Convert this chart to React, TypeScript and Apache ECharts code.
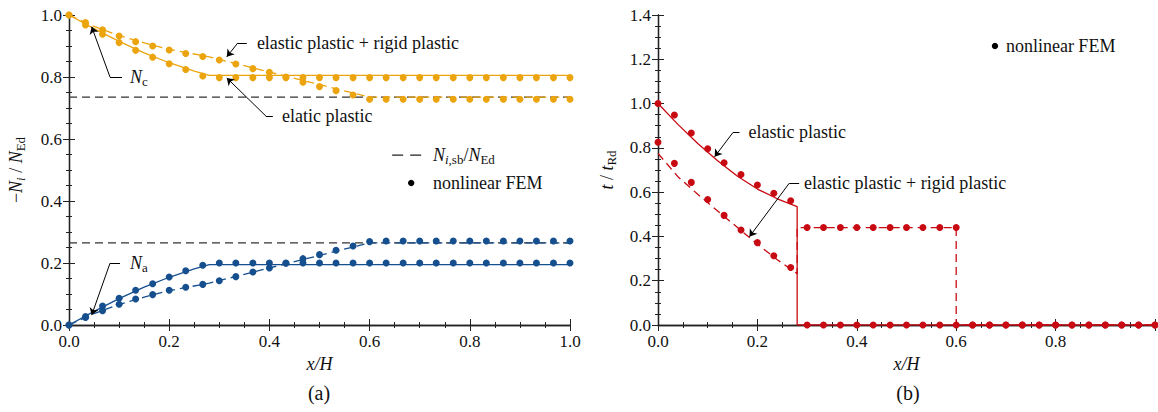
import React, { useEffect, useRef } from 'react';
import * as echarts from 'echarts';

// ---------- data ----------
const femX = [0, 0.033, 0.067, 0.1, 0.133, 0.167, 0.2, 0.233, 0.267, 0.3, 0.333, 0.367, 0.4, 0.433, 0.467, 0.5, 0.533, 0.567, 0.6, 0.633, 0.667, 0.7, 0.733, 0.767, 0.8, 0.833, 0.867, 0.9, 0.933, 0.967, 1.0];

// (a) nonlinear FEM
const femNcEP = [1.0, 0.968, 0.938, 0.911, 0.886, 0.864, 0.843, 0.824, 0.803, 0.798, 0.798, 0.798, 0.798, 0.798, 0.798, 0.798, 0.798, 0.798, 0.798, 0.798, 0.798, 0.798, 0.798, 0.798, 0.798, 0.798, 0.798, 0.798, 0.798, 0.798, 0.798];
const femNaEP = [0, 0.027, 0.061, 0.086, 0.112, 0.133, 0.155, 0.175, 0.193, 0.2, 0.2, 0.2, 0.2, 0.2, 0.2, 0.2, 0.2, 0.2, 0.2, 0.2, 0.2, 0.2, 0.2, 0.2, 0.2, 0.2, 0.2, 0.2, 0.2, 0.2, 0.2];
const femNcRP = [1.0, 0.976, 0.952, 0.932, 0.914, 0.9, 0.887, 0.876, 0.866, 0.855, 0.842, 0.827, 0.815, 0.8, 0.783, 0.769, 0.756, 0.742, 0.728, 0.728, 0.728, 0.728, 0.728, 0.728, 0.728, 0.728, 0.728, 0.728, 0.728, 0.728, 0.728];
const femNaRP = [0, 0.024, 0.046, 0.067, 0.084, 0.098, 0.112, 0.122, 0.131, 0.143, 0.156, 0.171, 0.184, 0.199, 0.214, 0.227, 0.241, 0.255, 0.269, 0.271, 0.271, 0.271, 0.271, 0.271, 0.271, 0.271, 0.271, 0.271, 0.271, 0.271, 0.271];

// (a) analytical lines
const lineXEP = [0, 0.05, 0.1, 0.15, 0.2, 0.25, 0.28, 1.0];
const lineNaEP = [0, 0.044, 0.085, 0.122, 0.154, 0.181, 0.195, 0.195];
const lineNcEP = [1, 0.956, 0.915, 0.878, 0.846, 0.819, 0.805, 0.805];
const lineXRP = [0, 0.05, 0.1, 0.15, 0.2, 0.28, 0.4, 0.6, 1.0];
const lineNaRP = [0, 0.037, 0.066, 0.09, 0.111, 0.135, 0.184, 0.265, 0.265];
const lineNcRP = [1, 0.963, 0.934, 0.91, 0.889, 0.865, 0.816, 0.735, 0.735];
const sbX = [0, 1];
const sbNc = [0.735, 0.735];
const sbNa = [0.265, 0.265];

// (b) nonlinear FEM
const femTEP = [1.0, 0.948, 0.867, 0.796, 0.733, 0.68, 0.632, 0.595, 0.561, 0, 0, 0, 0, 0, 0, 0, 0, 0, 0, 0, 0, 0, 0, 0, 0, 0, 0, 0, 0, 0, 0];
const femTRP = [0.825, 0.73, 0.644, 0.567, 0.495, 0.429, 0.372, 0.313, 0.26, 0.44, 0.44, 0.44, 0.44, 0.44, 0.44, 0.44, 0.44, 0.44, 0.44, 0, 0, 0, 0, 0, 0, 0, 0, 0, 0, 0, 0];

// (b) analytical lines
const lineTXEP = [0, 0.04, 0.08, 0.12, 0.16, 0.2, 0.24, 0.28, 0.28, 1.0];
const lineTEP = [1, 0.906, 0.82, 0.742, 0.672, 0.614, 0.57, 0.535, 0, 0];
const lineTXRP = [0, 0.04, 0.08, 0.12, 0.16, 0.2, 0.24, 0.28, 0.28, 0.6, 0.6, 1.0];
const lineTRP = [0.775, 0.67, 0.59, 0.515, 0.44, 0.365, 0.295, 0.232, 0.44, 0.44, 0, 0];

// annotation arrows (data coords): [elbow start, elbow, tip]
const arrowsA = [
  [[0.355, 0.91], [0.337, 0.91], [0.315, 0.865]],
  [[0.407, 0.674], [0.393, 0.674], [0.315, 0.797]],
  [[0.1058, 0.8], [0.0818, 0.8], [0.0453, 0.962]],
  [[0.1018, 0.199], [0.0818, 0.199], [0.0453, 0.032]],
];
const arrowsB = [
  [[0.164, 0.869], [0.1507, 0.869], [0.114, 0.76]],
  [[0.284, 0.64], [0.264, 0.64], [0.184, 0.399]],
];

const FONT = "'Liberation Serif', 'Times New Roman', serif";
const ORANGE = '#EBA40E';
const BLUE = '#164F8E';
const RED = '#C80A12';
const AXC = '#222';
const TXT = '#111';

const zip = (xs: number[], ys: number[]) => xs.map((x, i) => [x, ys[i]]);

function rich(size: number) {
  const sub = Math.round(size * 0.72);
  return {
    r: { fontFamily: FONT, fontSize: size, fontStyle: 'normal', lineHeight: size + 4, color: TXT },
    i: { fontFamily: FONT, fontSize: size, fontStyle: 'italic', lineHeight: size + 4, color: TXT },
    s: { fontFamily: FONT, fontSize: sub, fontStyle: 'normal', lineHeight: 10, verticalAlign: 'bottom', color: TXT },
    is: { fontFamily: FONT, fontSize: sub, fontStyle: 'italic', lineHeight: 10, verticalAlign: 'bottom', color: TXT },
  };
}

function xAxes(grid: number, hideMax: boolean) {
  const common: any = {
    type: 'value', gridIndex: grid, min: 0, max: 1, interval: 0.2,
    axisLine: { show: true, lineStyle: { color: AXC, width: 1.3 } },
    axisTick: { show: true, inside: true, length: 6, lineStyle: { color: AXC } },
    minorTick: { show: true, splitNumber: 4, length: 3, lineStyle: { color: AXC } },
    splitLine: { show: false },
    minorSplitLine: { show: false },
  };
  return [
    {
      ...common, position: 'bottom',
      name: 'x/H', nameLocation: 'middle', nameGap: 30,
      nameTextStyle: { fontFamily: FONT, fontSize: 18, fontStyle: 'italic', color: TXT },
      axisLabel: {
        show: true, fontFamily: FONT, fontSize: 17, fontStyle: 'normal', color: TXT, margin: 8,
        formatter: (v: number) => (hideMax && v > 0.99 ? '' : v.toFixed(1)),
      },
    },
    { ...common, position: 'top', axisLabel: { show: false } },
  ];
}

function yAxes(grid: number, max: number, name: string, gap: number) {
  const common: any = {
    type: 'value', gridIndex: grid, min: 0, max, interval: 0.2,
    axisLine: { show: true, lineStyle: { color: AXC, width: 1.3 } },
    axisTick: { show: true, inside: true, length: 6, lineStyle: { color: AXC } },
    minorTick: { show: true, splitNumber: 4, length: 3, lineStyle: { color: AXC } },
    splitLine: { show: false },
    minorSplitLine: { show: false },
  };
  return [
    {
      ...common, position: 'left',
      name, nameLocation: 'middle', nameGap: gap,
      nameTextStyle: { fontFamily: FONT, fontSize: 18, color: TXT, rich: rich(18) },
      axisLabel: { show: true, fontFamily: FONT, fontSize: 17, fontStyle: 'normal', color: TXT, margin: 7, formatter: (v: number) => v.toFixed(1) },
    },
    { ...common, position: 'right', axisLabel: { show: false } },
  ];
}

function lineSeries(xi: number, yi: number, data: number[][], color: string, dashed: boolean, width = 1.3) {
  return {
    type: 'line', xAxisIndex: xi, yAxisIndex: yi, data, symbol: 'none', z: 3,
    lineStyle: { color, width, type: dashed ? [8, 5] : 'solid' },
    silent: true,
  };
}
function femSeries(xi: number, yi: number, ys: number[], color: string) {
  return {
    type: 'scatter', xAxisIndex: xi, yAxisIndex: yi, data: zip(femX, ys),
    symbol: 'circle', symbolSize: 7, itemStyle: { color, opacity: 1 }, z: 5,
  };
}
function arrowSeries(xi: number, yi: number, arrows: number[][][]) {
  const data: any[] = [];
  arrows.forEach((a) => {
    data.push({ coords: [a[0], a[1]], symbol: ['none', 'none'] });
    data.push({ coords: [a[1], a[2]] });
  });
  return {
    type: 'lines', coordinateSystem: 'cartesian2d', xAxisIndex: xi, yAxisIndex: yi,
    z: 6, silent: true,
    symbol: ['none', 'arrow'], symbolSize: 7,
    lineStyle: { color: '#000', width: 1, opacity: 1, curveness: 0 },
    data,
  };
}

export default function App() {
  const ref = useRef<HTMLDivElement>(null);
  useEffect(() => {
    if (!ref.current) return;
    const chart = echarts.init(ref.current, undefined, { renderer: 'svg' });
    const option: any = {
      animation: false,
      backgroundColor: '#fff',
      textStyle: { fontFamily: FONT },
      grid: [
        { left: 69, top: 15, width: 501, height: 310 },
        { left: 658, top: 15, width: 500, height: 310 },
      ],
      xAxis: [...xAxes(0, false), ...xAxes(1, true)],
      yAxis: [
        ...yAxes(0, 1.0, '{r|−}{i|N}{is|i}{r| / }{i|N}{s|Ed}', 42),
        ...yAxes(1, 1.4, '{i|t}{r| / }{i|t}{s|Rd}', 40),
      ],
      series: [
        lineSeries(0, 0, zip(sbX, sbNc), '#333', true, 1.1),
        lineSeries(0, 0, zip(sbX, sbNa), '#333', true, 1.1),
        lineSeries(0, 0, zip(lineXEP, lineNcEP), ORANGE, false),
        lineSeries(0, 0, zip(lineXRP, lineNcRP), ORANGE, true),
        lineSeries(0, 0, zip(lineXEP, lineNaEP), BLUE, false),
        lineSeries(0, 0, zip(lineXRP, lineNaRP), BLUE, true),
        femSeries(0, 0, femNcEP, ORANGE),
        femSeries(0, 0, femNcRP, ORANGE),
        femSeries(0, 0, femNaEP, BLUE),
        femSeries(0, 0, femNaRP, BLUE),
        arrowSeries(0, 0, arrowsA),
        lineSeries(2, 2, zip(lineTXEP, lineTEP), RED, false),
        lineSeries(2, 2, zip(lineTXRP, lineTRP), RED, true),
        femSeries(2, 2, femTEP, RED),
        femSeries(2, 2, femTRP, RED),
        arrowSeries(2, 2, arrowsB),
      ],
    };
    chart.setOption(option);

    const pa = (x: number, y: number) => chart.convertToPixel({ xAxisIndex: 0, yAxisIndex: 0 }, [x, y]) as number[];
    const pb = (x: number, y: number) => chart.convertToPixel({ xAxisIndex: 2, yAxisIndex: 2 }, [x, y]) as number[];
    const R = rich(18);
    const txt = (p: number[], text: string, align = 'left', size = 18) => ({
      type: 'text', x: p[0], y: p[1], silent: true,
      style: { text, fontFamily: FONT, fontSize: size, fontStyle: 'normal', fill: TXT, align, verticalAlign: 'middle', rich: R },
    });
    const la1 = pa(0.645, 0.548);
    const la2 = pa(0.705, 0.548);
    const dotA = pa(0.683, 0.458);
    const dotB = pb(0.678, 1.26);
    const graphic: any[] = [
      txt(pa(0.375, 0.91), 'elastic plastic + rigid plastic'),
      txt(pa(0.425, 0.674), 'elatic plastic'),
      txt(pa(0.1218, 0.8), '{i|N}{s|c}'),
      txt(pa(0.1218, 0.2), '{i|N}{s|a}'),
      txt(pb(0.182, 0.872), 'elastic plastic'),
      txt(pb(0.294, 0.641), 'elastic plastic + rigid plastic'),
      {
        type: 'line', silent: true,
        shape: { x1: la1[0], y1: la1[1], x2: la2[0], y2: la2[1] },
        style: { stroke: '#222', lineWidth: 1.2, lineDash: [11, 7] },
      },
      txt(pa(0.7265, 0.548), '{i|N}{is|i}{s|,sb}{r|/}{i|N}{s|Ed}'),
      { type: 'circle', silent: true, shape: { cx: dotA[0], cy: dotA[1], r: 3.2 }, style: { fill: '#000' } },
      txt(pa(0.7265, 0.458), 'nonlinear FEM'),
      { type: 'circle', silent: true, shape: { cx: dotB[0], cy: dotB[1], r: 3.2 }, style: { fill: '#000' } },
      txt(pb(0.7, 1.26), 'nonlinear FEM'),
      txt([319, 393], '(a)', 'center', 20),
      txt([908, 393], '(b)', 'center', 20),
    ];
    chart.setOption({ graphic });
    return () => chart.dispose();
  }, []);
  return <div ref={ref} style={{ position: 'absolute', left: 0, top: 0, width: 1158, height: 412 }} />;
}
